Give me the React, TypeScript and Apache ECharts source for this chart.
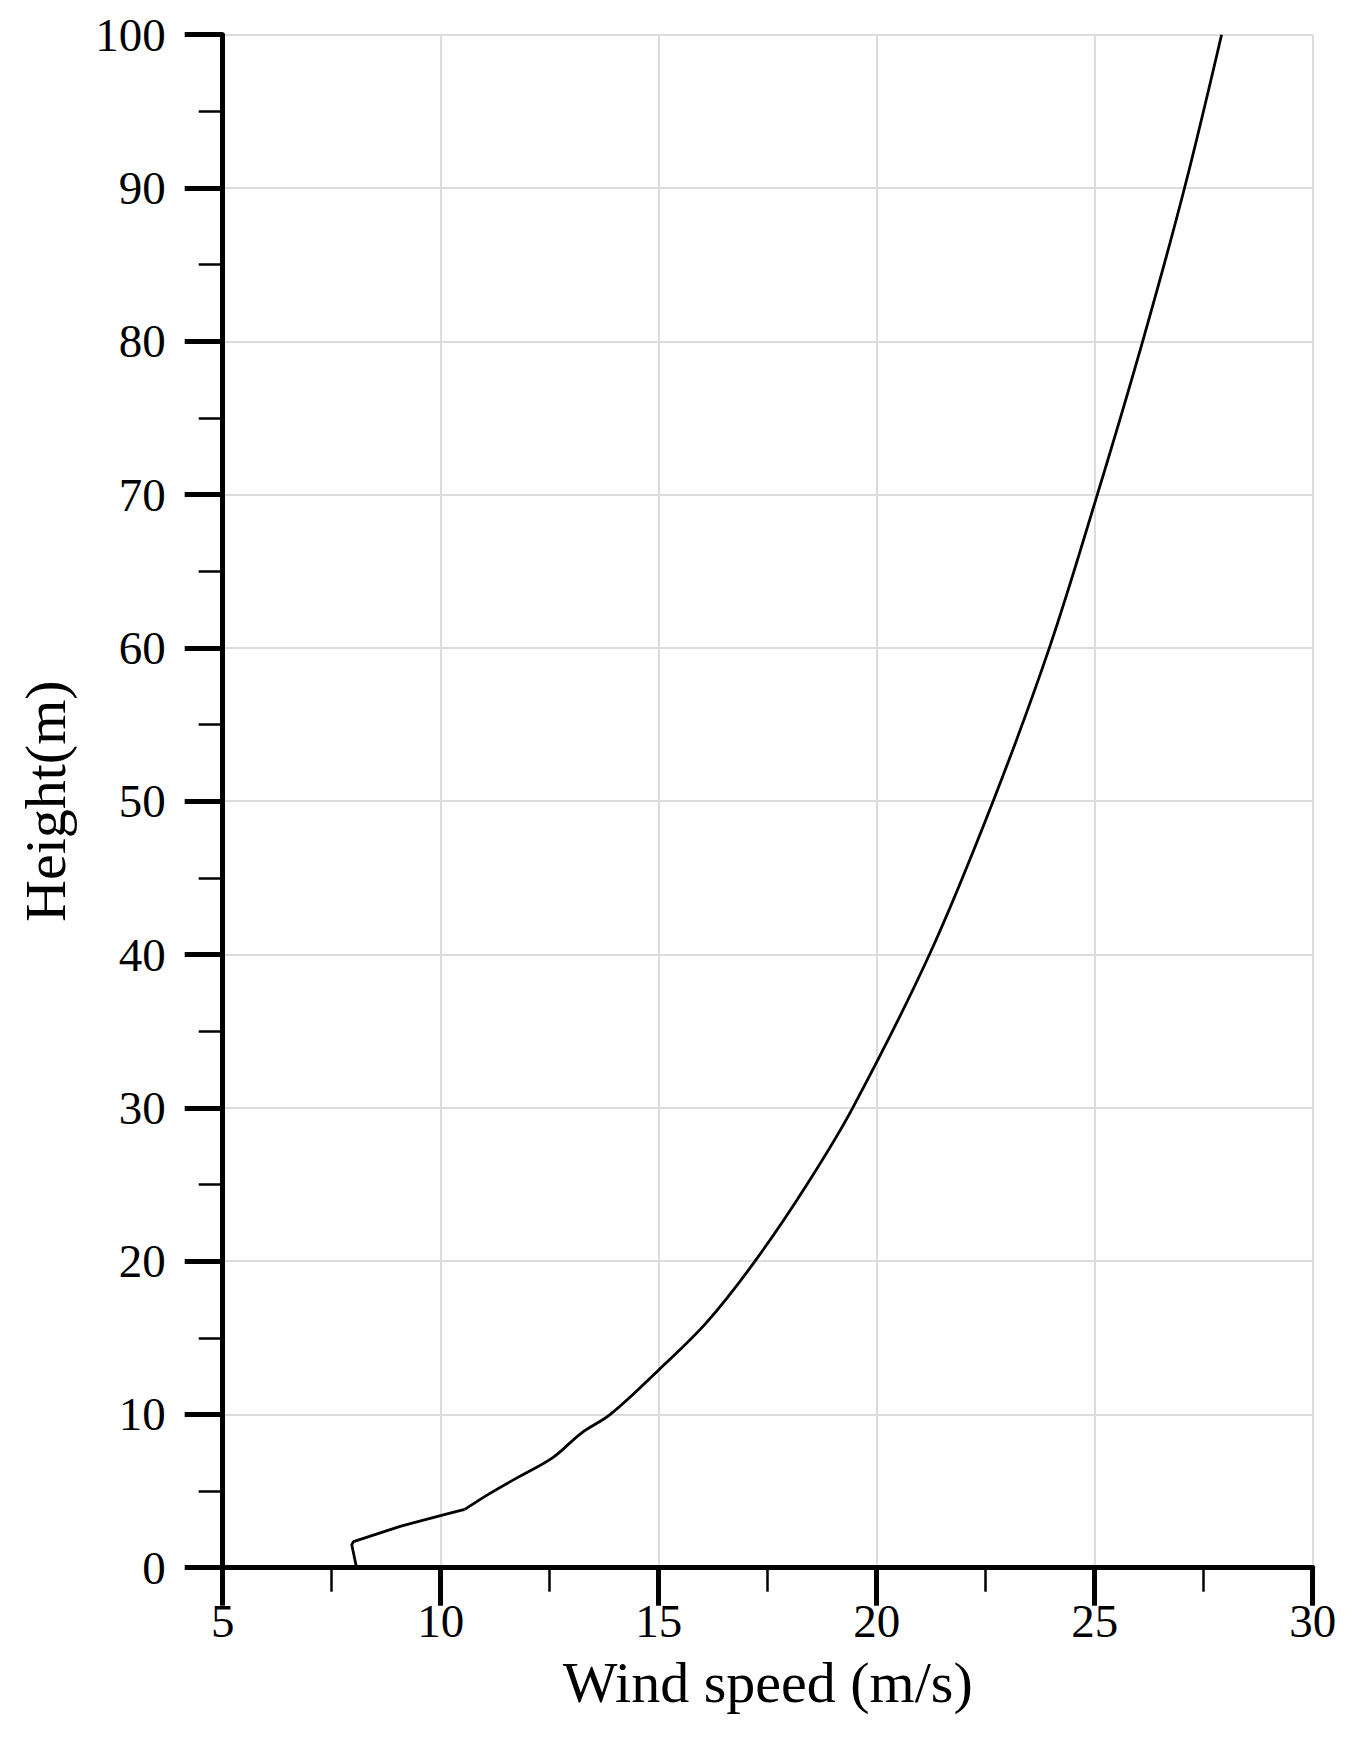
import React, { useEffect, useRef } from "react";
import * as echarts from "echarts";

const windSpeed: number[] = [
  8.07, 7.96, 8.0, 9.07, 10.06, 10.55, 11.13, 11.8, 12.58, 13.22, 13.89, 15.0,
  16.1, 17.21, 18.4, 19.45, 21.21, 22.67, 23.96, 25.06, 26.1, 27.06, 27.91,
];
const height: number[] = [
  0, 1.5, 1.7, 2.7, 3.45, 3.8, 4.85, 5.94, 7.2, 8.77, 10.0, 12.9, 16.0, 20.0,
  25.0, 30.0, 40.0, 50.0, 60.0, 70.0, 80.0, 90.0, 100.0,
];
// index where the straight near-ground segment ends and the smooth profile begins
const kneeIndex = 5;
const xTitle = "Wind speed (m/s)";
const yTitle = "Height(m)";

const FONT = "Liberation Serif";

export default function App() {
  const ref = useRef<HTMLDivElement>(null);
  useEffect(() => {
    if (!ref.current) return;
    const chart = echarts.init(ref.current, undefined, { renderer: "svg" });
    const data = windSpeed.map((v, i) => [v, height[i]]);
    const lower = data.slice(0, kneeIndex + 1);
    const upper = data.slice(kneeIndex);
    const lineStyle = { color: "#000", width: 2.8 };
    chart.setOption({
      animation: false,
      backgroundColor: "#ffffff",
      grid: { left: 222.7, top: 34.7, width: 1090, height: 1533, containLabel: false },
      xAxis: {
        type: "value",
        min: 5,
        max: 30,
        interval: 5,
        name: xTitle,
        nameLocation: "middle",
        nameGap: 86,
        nameTextStyle: { fontFamily: FONT, fontSize: 58, color: "#000" },
        axisLine: { show: true, onZero: false, lineStyle: { color: "#000", width: 5 } },
        axisTick: { show: true, length: 38, lineStyle: { color: "#000", width: 5 } },
        minorTick: { show: true, splitNumber: 2, length: 24, lineStyle: { color: "#000", width: 2.5 } },
        axisLabel: { fontFamily: FONT, fontSize: 47, color: "#000", margin: 30 },
        splitLine: { show: true, lineStyle: { color: "#dcdcdc", width: 2 } },
      },
      yAxis: {
        type: "value",
        min: 0,
        max: 100,
        interval: 10,
        name: yTitle,
        nameLocation: "middle",
        nameGap: 148,
        nameTextStyle: { fontFamily: FONT, fontSize: 58, color: "#000" },
        axisLine: { show: true, onZero: false, lineStyle: { color: "#000", width: 5 } },
        axisTick: { show: true, length: 38, lineStyle: { color: "#000", width: 5 } },
        minorTick: { show: true, splitNumber: 2, length: 24, lineStyle: { color: "#000", width: 2.5 } },
        axisLabel: { fontFamily: FONT, fontSize: 47, color: "#000", margin: 57 },
        splitLine: { show: true, lineStyle: { color: "#dcdcdc", width: 2 } },
      },
      series: [
        {
          type: "line",
          data: lower,
          symbol: "none",
          smooth: false,
          lineStyle,
        },
        {
          type: "line",
          data: upper,
          symbol: "none",
          smooth: 0.35,
          lineStyle,
        },
      ],
    });
    return () => chart.dispose();
  }, []);
  return (
    <div
      ref={ref}
      style={{ position: "absolute", left: 0, top: 0, width: 1353, height: 1743 }}
    />
  );
}
